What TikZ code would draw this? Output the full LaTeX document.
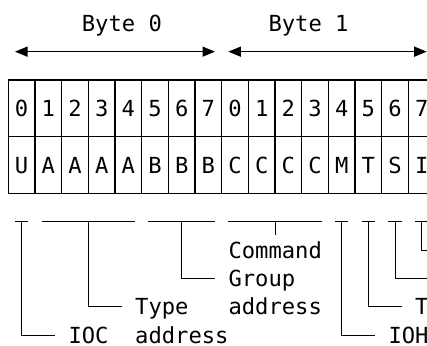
\documentclass[tikz,border=0pt]{standalone}
\usepackage{fontspec}
\setmonofont{DejaVu Sans Mono}
\usetikzlibrary{arrows.meta}
\begin{document}
\begin{tikzpicture}[x=13.3333pt,y=-28.3333pt,
  txt/.style={font=\ttfamily\fontsize{22.15pt}{26pt}\selectfont, inner sep=0pt, anchor=base west},
  chr/.style={font=\ttfamily\fontsize{22.15pt}{26pt}\selectfont, inner sep=0pt, anchor=base},
  gridln/.style={line width=1.2pt},
  brk/.style={line width=1pt},
  dbl/.style={line width=1.3pt, {Triangle[length=12.5pt,width=10pt]}-{Triangle[length=12.5pt,width=10pt]}}]
\useasboundingbox (-0.625,-0.8235) rectangle (31.4,11.388);
\clip (-0.625,-0.8235) rectangle (31.4,11.388);
% byte labels
\node[txt] (b0) at (5.5,0.293) {Byte 0};
\node[txt] (b1) at (19.5,0.293) {Byte 1};
\coordinate (a0l) at (0.5,1); \coordinate (a0r) at (15.5,1);
\coordinate (a1l) at (16.5,1); \coordinate (a1r) at (31.38,1);
\draw[dbl] (a0l) -- (a0r);
\draw[dbl] (a1l) -- (a1r);
% grid
\foreach \m in {0,...,16} \draw[gridln] (2*\m,2) -- (2*\m,6);
\foreach \r in {2,4,6} \draw[gridln] (0,\r) -- (33,\r);
\foreach \b in {0,...,7} {
  \node[chr] (d0\b) at (2*\b+1,3.293) {\b};
  \node[chr] (d1\b) at (2*\b+17,3.293) {\b};
}
\foreach \l [count=\i from 0] in {U,A,A,A,A,B,B,B,C,C,C,C,M,T,S,I}
  \node[chr] (l\i) at (2*\i+1,5.293) {\l};
% brackets
\draw[brk] (0.5,7) -- (1.5,7); \draw[brk] (1,7) -- (1,11) -- (3.5,11);
\draw[brk] (2.5,7) -- (9.5,7); \draw[brk] (6,7) -- (6,10) -- (8.5,10);
\draw[brk] (10.5,7) -- (15.5,7); \draw[brk] (13,7) -- (13,9) -- (15.5,9);
\draw[brk] (16.5,7) -- (23.5,7); \draw[brk] (20,7) -- (20,7.47);
\draw[brk] (24.5,7) -- (25.5,7); \draw[brk] (25,7) -- (25,11) -- (27.5,11);
\draw[brk] (26.5,7) -- (27.5,7); \draw[brk] (27,7) -- (27,10) -- (29.5,10);
\draw[brk] (28.5,7) -- (29.5,7); \draw[brk] (29,7) -- (29,9) -- (32,9);
\draw[brk] (30.5,7) -- (31.5,7); \draw[brk] (31,7) -- (31,8) -- (32,8);
% labels
\node[txt] (cmd) at (16.5,8.293) {Command};
\node[txt] (grp) at (16.5,9.293) {Group};
\node[txt] (gad) at (16.5,10.293) {address};
\node[txt] (typ) at (9.5,10.293) {Type};
\node[txt] (tad) at (9.5,11.293) {address};
\node[txt] (ioc) at (4.5,11.293) {IOC};
\node[txt] (ioh) at (28.5,11.293) {IOH};
\node[txt] (tl) at (30.5,10.293) {T};
\end{tikzpicture}
\end{document}
